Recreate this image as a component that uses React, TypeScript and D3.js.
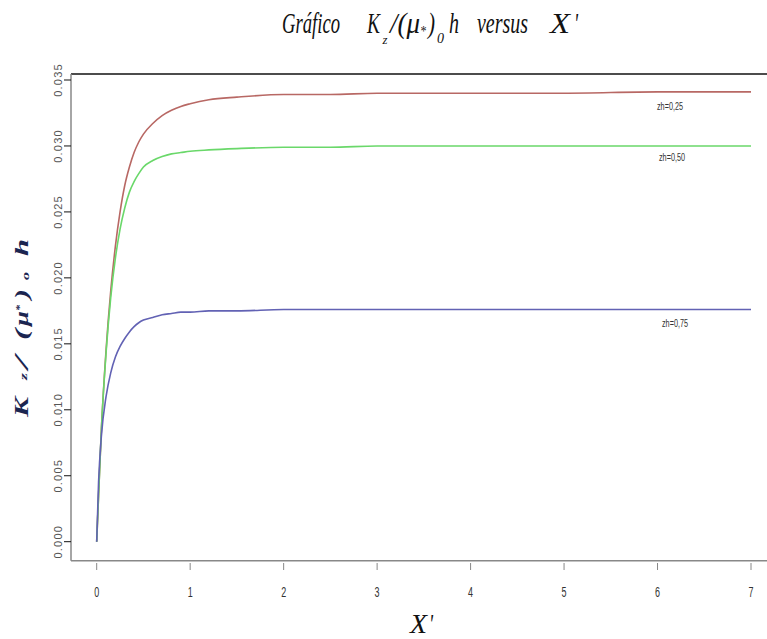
import React from "react";
import * as d3 from "d3";

const xValues = [0, 0.02, 0.05, 0.1, 0.15, 0.2, 0.25, 0.3, 0.35, 0.4, 0.45, 0.5, 0.6, 0.7, 0.8, 0.9, 1.0, 1.2, 1.5, 2, 2.5, 3, 4, 5, 6, 7];
const zh025 = [0, 0.0035, 0.0085, 0.0145, 0.019, 0.0224, 0.025, 0.027, 0.0284, 0.0295, 0.0303, 0.0309, 0.0317, 0.0323, 0.0327, 0.033, 0.0332, 0.0335, 0.0337, 0.0339, 0.0339, 0.034, 0.034, 0.034, 0.0341, 0.0341];
const zh050 = [0, 0.0035, 0.0085, 0.0143, 0.0185, 0.0215, 0.0237, 0.0253, 0.0265, 0.0273, 0.0279, 0.0284, 0.0289, 0.0292, 0.0294, 0.0295, 0.0296, 0.0297, 0.0298, 0.0299, 0.0299, 0.03, 0.03, 0.03, 0.03, 0.03];
const zh075 = [0, 0.0045, 0.008, 0.011, 0.0128, 0.014, 0.0148, 0.0154, 0.0159, 0.0163, 0.0166, 0.0168, 0.017, 0.0172, 0.0173, 0.0174, 0.0174, 0.0175, 0.0175, 0.0176, 0.0176, 0.0176, 0.0176, 0.0176, 0.0176, 0.0176];
const seriesLabels = ["zh=0,25", "zh=0,50", "zh=0,75"];
const xTicks = [0, 1, 2, 3, 4, 5, 6, 7];
const yTicks = [0, 0.005, 0.01, 0.015, 0.02, 0.025, 0.03, 0.035];

const W = 767;
const H = 639;

export default function App() {
  const x = d3.scaleLinear().domain([0, 7]).range([96.7, 751]);
  const y = d3.scaleLinear().domain([0, 0.035]).range([541.7, 80]);
  const series = [
    { values: zh025, color: "#b86864", label: seriesLabels[0], lx: 670, ly: 110 },
    { values: zh050, color: "#6ad86a", label: seriesLabels[1], lx: 672, ly: 161 },
    { values: zh075, color: "#6262b4", label: seriesLabels[2], lx: 675, ly: 327 },
  ];
  const line = d3
    .line<number>()
    .x((_, i) => x(xValues[i]))
    .y((d) => y(d))
    .curve(d3.curveMonotoneX);

  const serif = "'Liberation Serif', 'DejaVu Serif', serif";
  const sans = "'Liberation Sans', Arial, sans-serif";
  const left = 71;
  const top = 74;
  const bottom = 560.7;
  const adj = "spacingAndGlyphs";

  return (
    <svg
      width={W}
      height={H}
      style={{ position: "absolute", left: 0, top: 0, background: "#fff" }}
    >
      <rect x={0} y={0} width={W} height={H} fill="#fff" />
      {/* Title */}
      <text fontFamily={serif} fontStyle="italic" fill="#111" fontSize={29}>
        <tspan x={282} y={33} textLength={58} lengthAdjust={adj}>Gráfico</tspan>
        <tspan x={367} y={33} textLength={13} lengthAdjust={adj}>K</tspan>
        <tspan x={382.5} y={44} fontSize={13} textLength={5} lengthAdjust={adj}>z</tspan>
        <tspan x={390} y={33} textLength={30} lengthAdjust={adj}>/(μ</tspan>
        <tspan x={420} y={36} fontSize={14} textLength={6} lengthAdjust={adj}>*</tspan>
        <tspan x={428} y={33} textLength={7} lengthAdjust={adj}>)</tspan>
        <tspan x={437} y={43} fontSize={14} textLength={7} lengthAdjust={adj}>0</tspan>
        <tspan x={449} y={33} textLength={10} lengthAdjust={adj}>h</tspan>
        <tspan x={477} y={33} textLength={51} lengthAdjust={adj}>versus</tspan>
        <tspan x={550} y={33} textLength={20} lengthAdjust={adj}>X</tspan>
        <tspan x={574} y={33} textLength={4} lengthAdjust={adj}>'</tspan>
      </text>

      {/* Frame */}
      <line x1={left} y1={top} x2={W} y2={top} stroke="#111" strokeWidth={1.5} />
      <line x1={left} y1={top} x2={left} y2={bottom} stroke="#888" strokeWidth={1.5} />
      <line x1={left} y1={bottom} x2={W} y2={bottom} stroke="#888" strokeWidth={1.5} />

      {/* Y axis ticks */}
      {yTicks.map((t) => (
        <g key={t}>
          <line x1={64} x2={left} y1={y(t)} y2={y(t)} stroke="#111" strokeWidth={1} />
          <text
            transform={`translate(62,${y(t)}) rotate(-90)`}
            textAnchor="middle"
            fontFamily={sans}
            fontSize={11}
            letterSpacing={1.2}
            fill="#555"
          >
            {d3.format(".3f")(t)}
          </text>
        </g>
      ))}

      {/* X axis ticks */}
      {xTicks.map((t) => (
        <g key={t}>
          <line x1={x(t)} x2={x(t)} y1={563} y2={570} stroke="#888" strokeWidth={1} />
          <text
            x={x(t) - 2.5}
            y={597}
            fontFamily={sans}
            fontSize={14}
            textLength={5}
            lengthAdjust={adj}
            fill="#333"
          >
            {t}
          </text>
        </g>
      ))}

      {/* X label */}
      <text fontFamily={serif} fontStyle="italic" fontSize={28} fill="#111">
        <tspan x={410} y={633} textLength={17} lengthAdjust={adj}>X</tspan>
        <tspan x={429} y={633} textLength={4} lengthAdjust={adj}>'</tspan>
      </text>

      {/* Y label */}
      <text transform="translate(28,417) rotate(-90)" fontFamily={serif} fontStyle="italic" fontWeight="bold" fill="#1b2550" fontSize={19}>
        <tspan x={0} y={0} textLength={20} lengthAdjust={adj}>K</tspan>
        <tspan x={37} y={-1} fontSize={10} textLength={7} lengthAdjust={adj}>z</tspan>
        <tspan x={48} y={0} textLength={13} lengthAdjust={adj}>/</tspan>
        <tspan x={77} y={0} textLength={11} lengthAdjust={adj}>(</tspan>
        <tspan x={91} y={0} textLength={15} lengthAdjust={adj}>μ</tspan>
        <tspan x={106} y={-5} fontSize={10} textLength={6} lengthAdjust={adj}>*</tspan>
        <tspan x={118} y={0} textLength={10} lengthAdjust={adj}>)</tspan>
        <tspan x={137} y={1} fontSize={11} textLength={8} lengthAdjust={adj}>o</tspan>
        <tspan x={161} y={0} textLength={17} lengthAdjust={adj}>h</tspan>
      </text>

      {/* Lines */}
      {series.map((s) => (
        <path key={s.label} d={line(s.values) || ""} fill="none" stroke={s.color} strokeWidth={1.6} />
      ))}

      {/* Line labels */}
      {series.map((s) => (
        <text
          key={s.label + "t"}
          x={s.lx - 13}
          y={s.ly}
          fontFamily={sans}
          fontSize={10}
          textLength={26}
          lengthAdjust={adj}
          fill="#333"
        >
          {s.label}
        </text>
      ))}
    </svg>
  );
}
